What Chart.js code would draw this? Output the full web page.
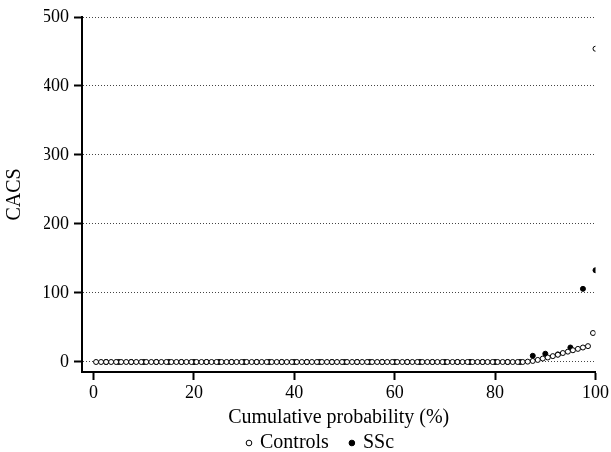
<!DOCTYPE html>
<html>
<head>
<meta charset="utf-8">
<script src="https://cdn.jsdelivr.net/npm/chart.js@4"></script>
<style>
  html, body { margin: 0; padding: 0; background: #fff; }
</style>
</head>
<body>
<canvas id="cacsChart" width="611" height="452"></canvas>
<script>
// cumulative probability (%) and CACS
const controlsProb = [
  0.5, 1.5, 2.5, 3.5, 4.5, 5.5, 6.5, 7.5, 8.5, 9.5,
  10.5, 11.5, 12.5, 13.5, 14.5, 15.5, 16.5, 17.5, 18.5, 19.5,
  20.5, 21.5, 22.5, 23.5, 24.5, 25.5, 26.5, 27.5, 28.5, 29.5,
  30.5, 31.5, 32.5, 33.5, 34.5, 35.5, 36.5, 37.5, 38.5, 39.5,
  40.5, 41.5, 42.5, 43.5, 44.5, 45.5, 46.5, 47.5, 48.5, 49.5,
  50.5, 51.5, 52.5, 53.5, 54.5, 55.5, 56.5, 57.5, 58.5, 59.5,
  60.5, 61.5, 62.5, 63.5, 64.5, 65.5, 66.5, 67.5, 68.5, 69.5,
  70.5, 71.5, 72.5, 73.5, 74.5, 75.5, 76.5, 77.5, 78.5, 79.5,
  80.5, 81.5, 82.5, 83.5, 84.5, 85.5, 86.5, 87.5, 88.5, 89.5,
  90.5, 91.5, 92.5, 93.5, 94.5, 95.5, 96.5, 97.5, 98.5, 99.5, 100
];
const controlsCacs = [
  0, 0, 0, 0, 0, 0, 0, 0, 0, 0,
  0, 0, 0, 0, 0, 0, 0, 0, 0, 0,
  0, 0, 0, 0, 0, 0, 0, 0, 0, 0,
  0, 0, 0, 0, 0, 0, 0, 0, 0, 0,
  0, 0, 0, 0, 0, 0, 0, 0, 0, 0,
  0, 0, 0, 0, 0, 0, 0, 0, 0, 0,
  0, 0, 0, 0, 0, 0, 0, 0, 0, 0,
  0, 0, 0, 0, 0, 0, 0, 0, 0, 0,
  0, 0, 0, 0, 0, 0, 0.5, 1.5, 3, 5,
  6.5, 8.5, 10.5, 13, 15, 17, 19, 21, 23, 42, 454
];

const sscProb = [
  2.5, 5, 7.5, 10, 12.5, 15, 17.5, 20, 22.5, 25,
  27.5, 30, 32.5, 35, 37.5, 40, 42.5, 45, 47.5, 50,
  52.5, 55, 57.5, 60, 62.5, 65, 67.5, 70, 72.5, 75,
  77.5, 80, 82.5, 85, 87.5, 90, 92.5, 95, 97.5, 100
];
const sscCacs = [
  0, 0, 0, 0, 0, 0, 0, 0, 0, 0,
  0, 0, 0, 0, 0, 0, 0, 0, 0, 0,
  0, 0, 0, 0, 0, 0, 0, 0, 0, 0,
  0, 0, 0, 0, 9, 12, 11, 21, 106, 133
];

const xTicks = [0, 20, 40, 60, 80, 100];
const yTicks = [0, 100, 200, 300, 400, 500];

const toPoints = (xs, ys) => xs.map((x, i) => ({ x: x, y: ys[i] }));
const family = "'Liberation Serif', 'Times New Roman', serif";
const tickFont = { family: family, size: 18 };
const textFont = { family: family, size: 20 };

new Chart(document.getElementById('cacsChart'), {
  type: 'scatter',
  data: {
    datasets: [
      {
        label: 'Controls',
        data: toPoints(controlsProb, controlsCacs),
        pointRadius: 2.5,
        pointBackgroundColor: '#fff',
        pointBorderColor: '#000',
        pointBorderWidth: 1
      },
      {
        label: 'SSc',
        data: toPoints(sscProb, sscCacs),
        pointRadius: 2.5,
        pointBackgroundColor: '#000',
        pointBorderColor: '#000',
        pointBorderWidth: 1
      }
    ]
  },
  options: {
    responsive: false,
    animation: false,
    devicePixelRatio: 1,
    layout: { padding: { top: 17, right: 13, left: 44, bottom: -11 } },
    plugins: {
      tooltip: { enabled: false },
      legend: {
        position: 'bottom',
        labels: {
          usePointStyle: true,
          pointStyle: 'circle',
          boxWidth: 2,
          boxHeight: 4,
          padding: 22,
          color: '#000',
          font: textFont
        }
      }
    },
    scales: {
      x: {
        type: 'linear',
        min: -2.3,
        max: 100,
        afterBuildTicks: s => { s.ticks = xTicks.map(v => ({ value: v })); },
        afterFit: s => { s.height = 39; },
        grid: { drawOnChartArea: false, tickLength: 8, tickWidth: 2, tickColor: '#000', color: '#000' },
        border: { color: '#000', width: 2 },
        ticks: { color: '#000', font: tickFont, padding: 2, maxRotation: 0 },
        title: { display: true, text: 'Cumulative probability (%)', color: '#000', font: textFont, padding: { top: 0, bottom: -19 } }
      },
      y: {
        min: -14.5,
        max: 500,
        afterBuildTicks: s => { s.ticks = yTicks.map(v => ({ value: v })); },
        afterFit: s => { s.width = 38; },
        grid: { color: '#444', lineWidth: 1, tickLength: 8, tickWidth: 2, tickColor: '#000', tickBorderDash: [] },
        border: { color: '#000', width: 2, dash: [1, 2] },
        ticks: { color: '#000', font: tickFont, padding: 5 },
        title: { display: true, text: 'CACS', color: '#000', font: textFont, padding: { top: -41, bottom: 0 } }
      }
    }
  }
});
</script>
</body>
</html>
